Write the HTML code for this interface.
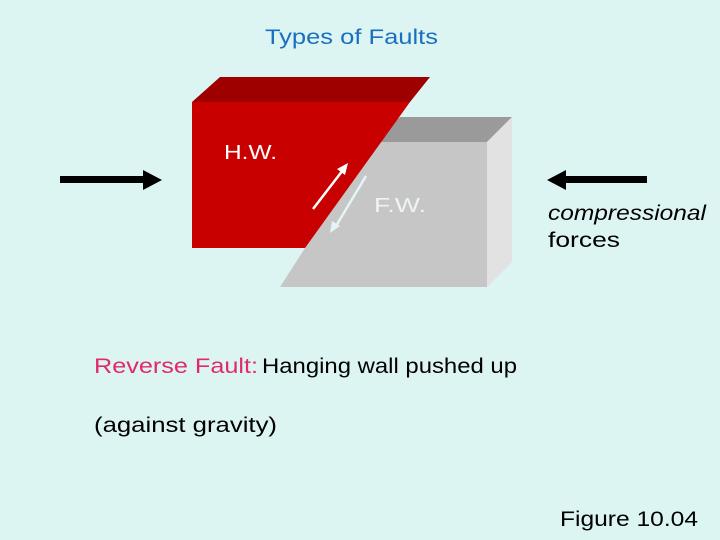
<!DOCTYPE html>
<html><head><style>
html,body{margin:0;padding:0;background:#ddf5f2;}
svg{display:block;}
text{font-family:"Liberation Sans",sans-serif;}
</style></head><body>
<svg width="720" height="540" viewBox="0 0 720 540">
<rect width="720" height="540" fill="#ddf5f2"/>
<text x="265" y="44" font-size="21" fill="#1a6fc0" textLength="173" lengthAdjust="spacingAndGlyphs">Types of Faults</text>
<!-- gray footwall -->
<polygon points="400,117 512,117 487,142 373,142" fill="#9a9a9a"/>
<polygon points="487,142 512,117 512,262 487,287" fill="#e2e2e2"/>
<polygon points="373,142 487,142 487,287 280,287" fill="#c6c6c6"/>
<!-- red hanging wall -->
<polygon points="220,77 430,77 410,102 192,102" fill="#9e0000"/>
<polygon points="192,102 410,102 305,248 192,248" fill="#c80000"/>
<text x="224" y="159" font-size="20" fill="#ffffff" textLength="53" lengthAdjust="spacingAndGlyphs">H.W.</text>
<text x="374" y="212" font-size="20" fill="#eef3f3" textLength="52" lengthAdjust="spacingAndGlyphs">F.W.</text>
<!-- slip arrows -->
<line x1="313" y1="209" x2="343" y2="170" stroke="#fff" stroke-width="2.5"/>
<polygon points="348,163 337,169 345,175" fill="#fff"/>
<line x1="366" y1="176" x2="336" y2="226" stroke="#e6f4f4" stroke-width="2.5"/>
<polygon points="330,233 332,221 340,226" fill="#e6f4f4"/>
<!-- force arrows -->
<rect x="60" y="176" width="85" height="7" fill="#000"/>
<polygon points="143,170 162,180 143,190" fill="#000"/>
<rect x="565" y="176" width="82" height="7" fill="#000"/>
<polygon points="566,170 547,180 566,190" fill="#000"/>
<text x="548" y="220" font-size="21" font-style="italic" fill="#000" textLength="158" lengthAdjust="spacingAndGlyphs">compressional</text>
<text x="548" y="247" font-size="21" fill="#000" textLength="72" lengthAdjust="spacingAndGlyphs">forces</text>
<text x="94" y="373" font-size="21" fill="#e02a6a" textLength="164" lengthAdjust="spacingAndGlyphs">Reverse Fault:</text>
<text x="262" y="373" font-size="21" fill="#000" textLength="255" lengthAdjust="spacingAndGlyphs">Hanging wall pushed up</text>
<text x="94" y="432" font-size="21" fill="#000" textLength="183" lengthAdjust="spacingAndGlyphs">(against gravity)</text>
<text x="560" y="526" font-size="21" fill="#000" textLength="138" lengthAdjust="spacingAndGlyphs">Figure 10.04</text>
</svg>
</body></html>
